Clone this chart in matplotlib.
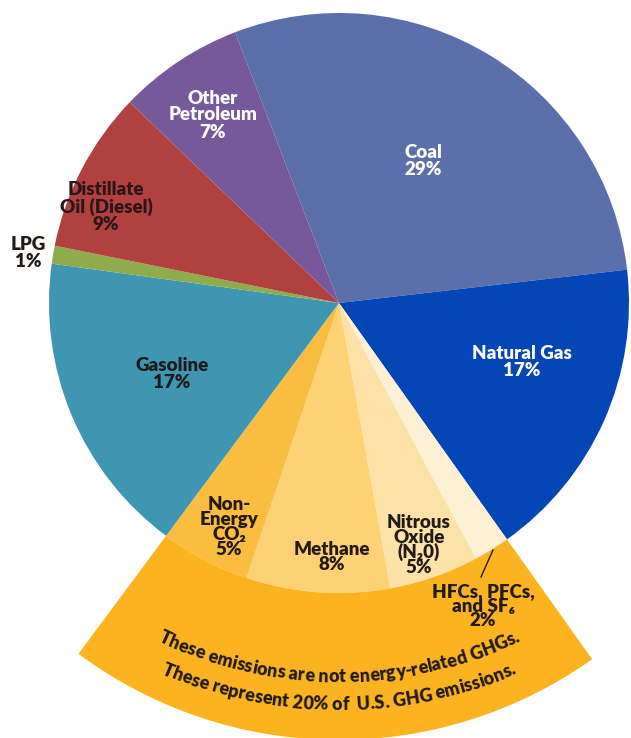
import numpy as np
import matplotlib
matplotlib.use('Agg')
import matplotlib.pyplot as plt
from matplotlib.patches import Wedge

# data, clockwise from Coal
sources = ['Coal', 'Natural Gas', 'HFCs, PFCs,\nand SF\u2086', 'Nitrous\nOxide\n(N\u20820)',
           'Methane', 'Non-\nEnergy\nCO\u2082', 'Gasoline', 'LPG',
           'Distillate\nOil (Diesel)', 'Other\nPetroleum']
shares = [29, 17, 2, 5, 8, 5, 17, 1, 9, 7]
non_energy = [2, 3, 4, 5]   # indices of the non energy-related gases
band_lines = ['These emissions are not energy-related GHGs.',
              'These represent 20% of  U.S. GHG emissions.']

colors = ['#5b6fab', '#0546b6', '#fef0d4', '#fde2a8', '#fdd274', '#fabd3f',
          '#3f96b1', '#8fac4c', '#b0413f', '#77589b']
band_color = '#fbb420'

W, H = 631, 738
cx, cy = 339, H - 303
R = 290
R_band = 437

# label positions in picture pixels (x, y from top), colours
label_pos = [(423, 161), (522, 362), (483, 606), (419, 545), (332, 557),
             (229, 527), (172, 374), (28, 253), (106, 207), (213, 115)]
label_col = ['white', 'white', '#231a14', '#231a14', '#231a14', '#231a14',
             '#1f1a1a', '#231a14', '#2a1616', 'white']

plt.rcParams['font.family'] = ['Lato', 'DejaVu Sans']
WEIGHT = 'heavy'

fig = plt.figure(figsize=(W / 100, H / 100), dpi=100)
ax = fig.add_axes([0, 0, 1, 1])
ax.set_xlim(0, W)
ax.set_ylim(0, H)
ax.axis('off')

wedges, _ = ax.pie(shares, colors=colors, startangle=111, counterclock=False,
                   center=(cx, cy), radius=R, wedgeprops=dict(linewidth=0))
ax.set_xlim(0, W)
ax.set_ylim(0, H)

# outer band behind the non energy-related slices
t1 = min(wedges[i].theta1 for i in non_energy)
t2 = max(wedges[i].theta2 for i in non_energy)
ax.add_patch(Wedge((cx, cy), R_band, t1, t2, width=R_band - R,
                   facecolor=band_color, linewidth=0))

for i, name in enumerate(sources):
    x, y = label_pos[i]
    ls = 0.85 if i in non_energy else 1.0
    ax.text(x, H - y, name + '\n' + str(shares[i]) + '%', ha='center', va='center',
            fontsize=13.5, fontweight=WEIGHT, color=label_col[i], linespacing=ls)

# leader line for the small slice
ax.plot([493, 481], [H - 550, H - 577], color='#231a14', lw=1)

# text bent along the band (its arc is a bit flatter than the pie)
renderer = fig.canvas.get_renderer()
tcx, tcy = 339, H - 258


def text_w(s, fs):
    t = ax.text(0, 0, s + '|', fontsize=fs, fontweight=WEIGHT)
    w = t.get_window_extent(renderer).width
    t.remove()
    return w


def arc_text(s, r, fs):
    bar = text_w('', fs)
    lefts = [text_w(s[:i], fs) - bar for i in range(len(s) + 1)]
    total = lefts[-1]
    for i, ch in enumerate(s):
        if ch == ' ':
            continue
        d = (lefts[i] + lefts[i + 1]) / 2 - total / 2
        a = -np.pi / 2 + d / r
        ax.text(tcx + r * np.cos(a), tcy + r * np.sin(a), ch, fontsize=fs,
                fontweight=WEIGHT, color='#231a14', ha='center', va='baseline',
                rotation=np.degrees(a) + 90, rotation_mode='anchor')


arc_text(band_lines[0], 424, 13)
arc_text(band_lines[1], 452, 13)

fig.savefig('out.png', dpi=100)
